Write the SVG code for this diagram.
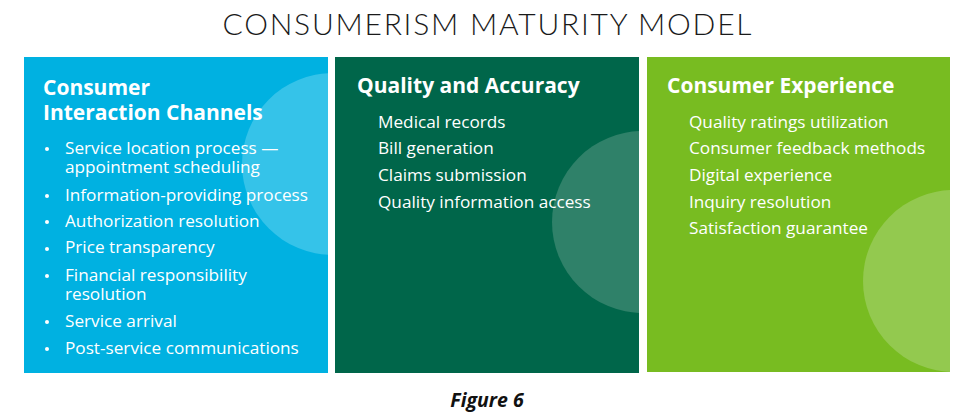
<svg xmlns="http://www.w3.org/2000/svg" width="975" height="414" viewBox="0 0 975 414">
<style>
.title{font-family:"Lato","Liberation Sans",sans-serif;font-weight:300;font-size:30px;fill:#1a1a1a;letter-spacing:1px}
.hd{font-family:"Open Sans","Liberation Sans",sans-serif;font-weight:700;font-size:21px;fill:#fff}
.it{font-family:"Open Sans","Liberation Sans",sans-serif;font-weight:400;font-size:17.2px;fill:#fff}
.cap{font-family:"Open Sans","Liberation Sans",sans-serif;font-weight:700;font-style:italic;font-size:19.5px;fill:#111}
</style>
<defs>
<clipPath id="c1"><rect x="24" y="57" width="304" height="316"/></clipPath>
<clipPath id="c2"><rect x="335" y="57" width="304" height="316"/></clipPath>
<clipPath id="c3"><rect x="647" y="57" width="303" height="315"/></clipPath>
</defs>
<text class="title" x="487.5" y="35" text-anchor="middle" textLength="530" lengthAdjust="spacing">CONSUMERISM MATURITY MODEL</text>
<g id="panel-consumer-interaction">
<rect x="24" y="57" width="304" height="316" fill="#00B1E1"/>
<circle cx="333" cy="164" r="91" fill="#35C3E9" clip-path="url(#c1)"/>
<text class="hd" x="43" y="95">Consumer<tspan x="43" dy="25">Interaction Channels</tspan></text>
<g fill="#fff"><circle cx="47" cy="149" r="2"/><circle cx="47" cy="196" r="2"/><circle cx="47" cy="222" r="2"/><circle cx="47" cy="249" r="2"/><circle cx="47" cy="276" r="2"/><circle cx="47" cy="322" r="2"/><circle cx="47" cy="349" r="2"/></g>
<text class="it" x="65" y="154">Service location process —<tspan x="65" dy="19">appointment scheduling</tspan></text>
<text class="it" x="65" y="201">Information-providing process</text>
<text class="it" x="65" y="227">Authorization resolution</text>
<text class="it" x="65" y="253">Price transparency</text>
<text class="it" x="65" y="281">Financial responsibility<tspan x="65" dy="19">resolution</tspan></text>
<text class="it" x="65" y="327">Service arrival</text>
<text class="it" x="65" y="354">Post-service communications</text>
</g>
<g id="panel-quality-accuracy">
<rect x="335" y="57" width="304" height="316" fill="#00664A"/>
<circle cx="643" cy="222" r="91" fill="#2F8169" clip-path="url(#c2)"/>
<text class="hd" x="357" y="93">Quality and Accuracy</text>
<text class="it" x="378" y="128">Medical records</text>
<text class="it" x="378" y="154">Bill generation</text>
<text class="it" x="378" y="181">Claims submission</text>
<text class="it" x="378" y="208">Quality information access</text>
</g>
<g id="panel-consumer-experience">
<rect x="647" y="57" width="303" height="315" fill="#78BC21"/>
<circle cx="954" cy="281" r="91" fill="#93C94F" clip-path="url(#c3)"/>
<text class="hd" x="667" y="93">Consumer Experience</text>
<text class="it" x="689" y="128">Quality ratings utilization</text>
<text class="it" x="689" y="154">Consumer feedback methods</text>
<text class="it" x="689" y="181">Digital experience</text>
<text class="it" x="689" y="208">Inquiry resolution</text>
<text class="it" x="689" y="234">Satisfaction guarantee</text>
</g>
<g id="connectors"/>
<text class="cap" x="487" y="407" text-anchor="middle">Figure 6</text>
</svg>
